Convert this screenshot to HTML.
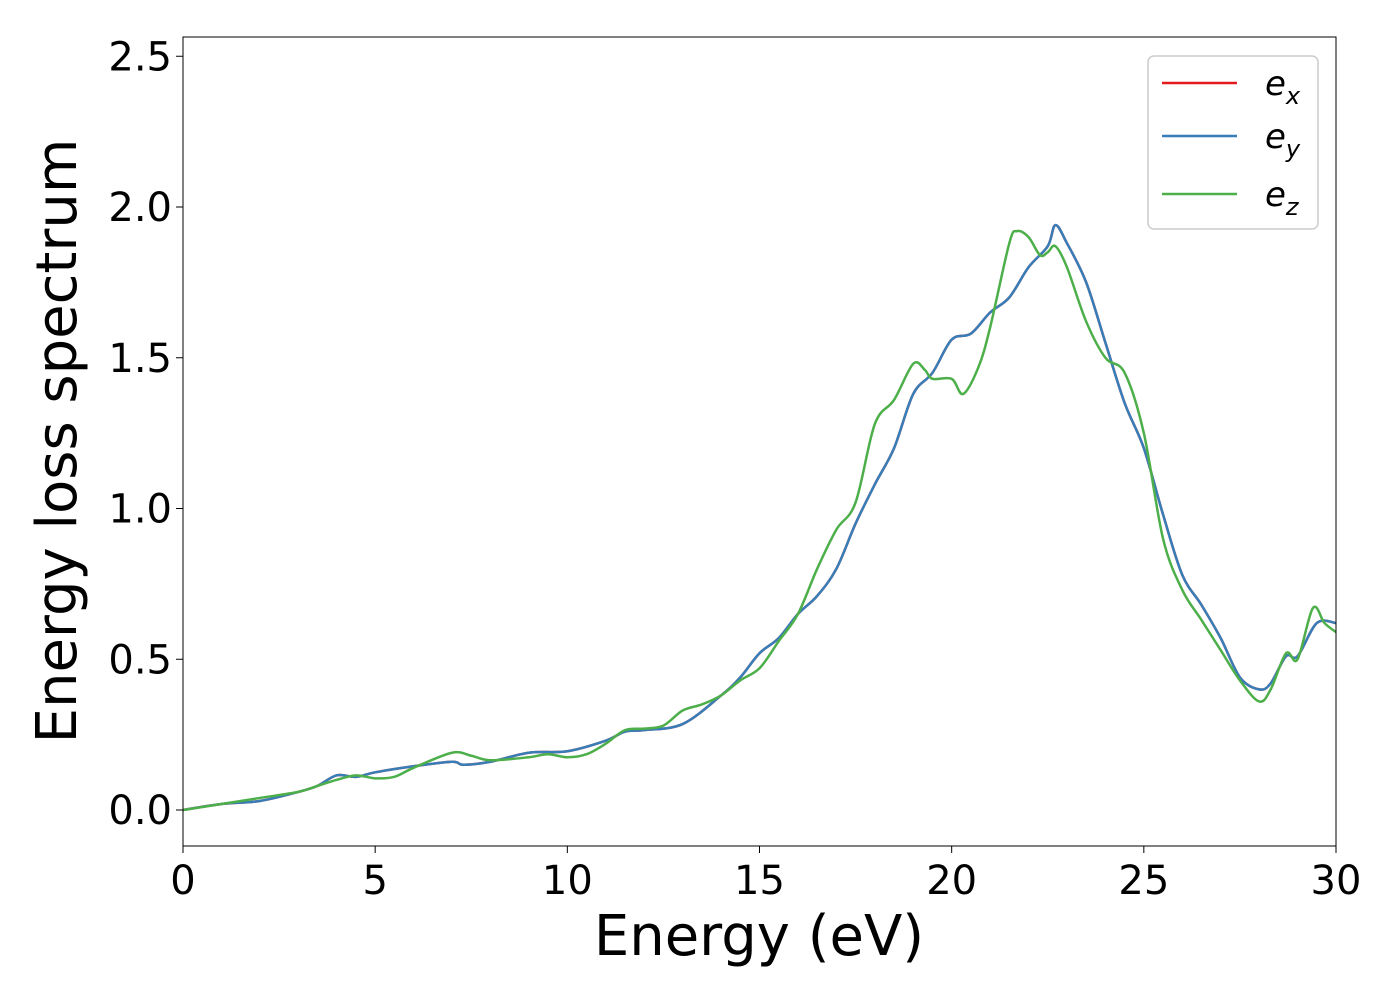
<!DOCTYPE html>
<html><head><meta charset="utf-8"><style>
body{margin:0;background:#fff;}
svg text{font-family:"DejaVu Sans","Liberation Sans",sans-serif;}
</style></head><body>
<svg id="chart" width="1400" height="1000" xmlns="http://www.w3.org/2000/svg">
<rect width="1400" height="1000" fill="#fff"/>
<g id="plot"></g>
</svg>
<script>
const xTicks=[0,5,10,15,20,25,30];
const yTicks=[0.0,0.5,1.0,1.5,2.0,2.5];
const yTickLabels=["0.0","0.5","1.0","1.5","2.0","2.5"];
const exX=[0,1,2,3,3.5,4,4.5,5,6,7,7.3,8,9,10,11,11.5,12,13,14,14.5,15,15.5,16,16.5,17,17.5,18,18.5,19,19.5,20,20.5,21,21.5,22,22.5,22.7,23,23.5,24,24.5,25,25.5,26,26.5,27,27.5,28,28.3,28.7,29,29.5,30];
const exY=[0,0.02,0.03,0.06,0.08,0.115,0.11,0.125,0.145,0.16,0.15,0.16,0.19,0.195,0.23,0.26,0.265,0.285,0.38,0.44,0.52,0.57,0.65,0.71,0.8,0.95,1.08,1.2,1.38,1.45,1.56,1.58,1.65,1.7,1.8,1.87,1.94,1.88,1.75,1.55,1.35,1.2,0.98,0.78,0.68,0.57,0.44,0.4,0.42,0.51,0.51,0.62,0.62];
const eyX=exX.slice();
const eyY=exY.slice();
const ezX=[0,1,2,3,3.5,4,4.5,5,5.5,6,7,7.5,8,9,9.5,10,10.5,11,11.5,12,12.5,13,13.5,14,14.5,15,15.5,16,16.5,17,17.5,18,18.5,19,19.3,19.5,20,20.3,20.7,21,21.5,21.7,22,22.3,22.5,22.7,23,23.5,24,24.5,25,25.5,26,26.5,27,27.5,28,28.3,28.7,29,29.4,29.7,30];
const ezY=[0,0.02,0.04,0.06,0.08,0.1,0.115,0.105,0.11,0.14,0.19,0.18,0.165,0.175,0.185,0.175,0.185,0.22,0.265,0.27,0.28,0.33,0.35,0.38,0.43,0.47,0.56,0.65,0.8,0.93,1.02,1.28,1.36,1.48,1.46,1.43,1.43,1.38,1.47,1.6,1.88,1.92,1.9,1.84,1.85,1.87,1.8,1.62,1.5,1.45,1.25,0.9,0.73,0.63,0.53,0.43,0.36,0.4,0.52,0.5,0.67,0.62,0.59];

const L=183,R=1336,T=37,B=846;
const xs=v=>L+(v-0)/30*(R-L);
const ys=v=>810-v*301.5;
const NS="http://www.w3.org/2000/svg";
const g=document.getElementById('plot');
function mk(tag,attrs,parent){const e=document.createElementNS(NS,tag);for(const k in attrs)e.setAttribute(k,attrs[k]);(parent||g).appendChild(e);return e;}
function smooth(X,Y){const p=X.map((x,i)=>[xs(x),ys(Y[i])]);let d=`M${p[0][0]},${p[0][1]}`;
for(let i=0;i<p.length-1;i++){const p0=p[Math.max(0,i-1)],p1=p[i],p2=p[i+1],p3=p[Math.min(p.length-1,i+2)];
const c1=[p1[0]+(p2[0]-p0[0])/6,p1[1]+(p2[1]-p0[1])/6],c2=[p2[0]-(p3[0]-p1[0])/6,p2[1]-(p3[1]-p1[1])/6];
d+=`C${c1[0]},${c1[1]} ${c2[0]},${c2[1]} ${p2[0]},${p2[1]}`;}return d;}
const clip=mk('clipPath',{id:'pc'});mk('rect',{x:L,y:T,width:R-L,height:B-T},clip);
const series=[[exX,exY,'#e41a1c','series-ex'],[eyX,eyY,'#377eb8','series-ey'],[ezX,ezY,'#4daf4a','series-ez']];
series.forEach(s=>{const e=mk('path',{d:smooth(s[0],s[1]),fill:'none',stroke:s[2],'stroke-width':2.5,'clip-path':'url(#pc)'});

});
const fr=mk('rect',{x:L,y:T,width:R-L,height:B-T,fill:'none',stroke:'#000','stroke-width':1});


xTicks.forEach(v=>{mk('line',{x1:xs(v),x2:xs(v),y1:B,y2:B+7,stroke:'#000'});
const t=mk('text',{x:xs(v),y:894,'font-size':40,'text-anchor':'middle'});t.textContent=v;

});
yTicks.forEach((v,i)=>{mk('line',{x1:L-7,x2:L,y1:ys(v),y2:ys(v),stroke:'#000'});
const t=mk('text',{x:172,y:ys(v)+14,'font-size':40,'text-anchor':'end'});t.textContent=yTickLabels[i];

});
const xt=mk('text',{x:759,y:955,'font-size':56,'text-anchor':'middle'});xt.textContent='Energy (eV)';


const yt=mk('text',{x:0,y:0,'font-size':56,'text-anchor':'middle',transform:'translate(76,441) rotate(-90)'});yt.textContent='Energy loss spectrum';


const lg=mk('g',{});


mk('rect',{x:1148,y:56,width:170,height:173,rx:6,fill:'#fff',stroke:'#ccc','stroke-width':1.5},lg);
const names=['x','y','z'],cols=['#e41a1c','#377eb8','#4daf4a'],ly=[83,136,194];
names.forEach((n,i)=>{mk('line',{x1:1162,x2:1237,y1:ly[i],y2:ly[i],stroke:cols[i],'stroke-width':2.5},lg);
const t=mk('text',{x:1265,y:ly[i]+12,'font-size':34,'font-style':'italic'},lg);


t.innerHTML='e<tspan font-size="24" dy="9">'+n+'</tspan>';});
</script>
</body></html>
